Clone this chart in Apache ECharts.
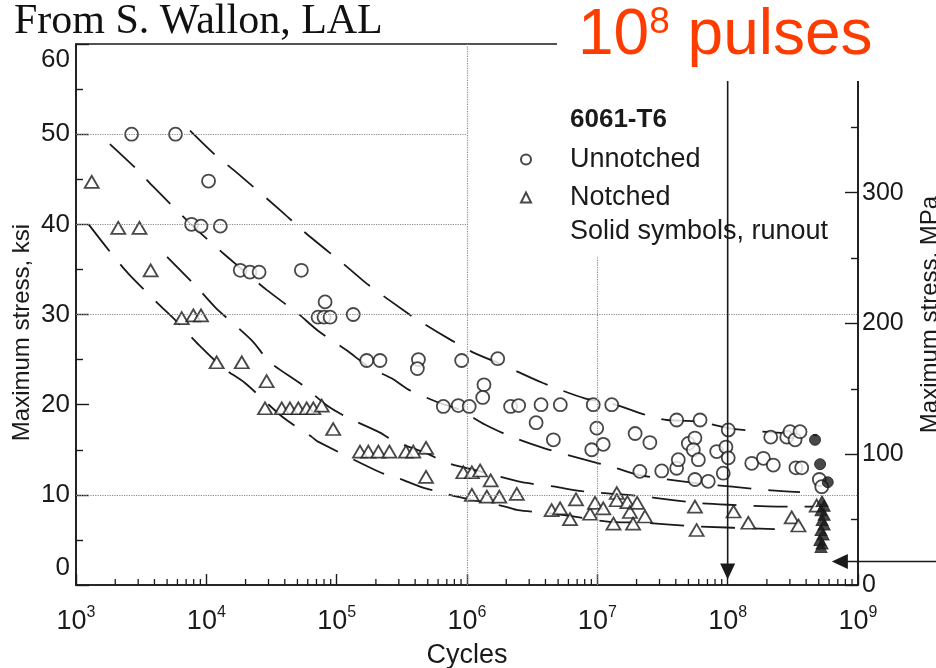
<!DOCTYPE html>
<html>
<head>
<meta charset="utf-8">
<script src="https://cdn.jsdelivr.net/npm/echarts@6/dist/echarts.min.js"></script>
<style>
  html, body { margin: 0; padding: 0; background: #ffffff; }
  #chart { width: 936px; height: 668px; }
</style>
</head>
<body>
<div id="chart"></div>
<script>
// S-N fatigue data for 6061-T6 aluminium: cycles to failure vs. maximum stress (ksi)

// Unnotched specimens (open circles)
const unnotchedCycles = [
  2.67e3, 5.8e3, 1.04e4, 7.7e3, 9.1e3, 1.28e4, 1.82e4, 2.16e4, 2.54e4, 5.36e4,
  8.15e4, 7.2e4, 8.0e4, 8.9e4, 1.34e5, 1.7e5, 2.15e5, 4.24e5, 4.16e5, 9.1e5,
  1.72e6, 1.35e6, 1.32e6, 6.58e5, 8.57e5, 1.04e6, 2.16e6, 2.49e6, 3.7e6, 5.2e6,
  9.3e6, 1.29e7, 3.39e6, 4.6e6, 9.9e6, 9.06e6, 1.11e7, 1.95e7, 2.12e7, 2.53e7,
  3.12e7, 4.06e7, 4.18e7, 4.06e7, 6.14e7, 4.99e7, 5.61e7, 5.45e7, 5.96e7, 5.61e7,
  7.1e7, 8.24e7, 9.7e7, 1.01e8, 9.25e7, 1.01e8, 1.53e8, 1.88e8, 2.24e8, 2.14e8,
  2.84e8, 3.01e8, 3.29e8, 3.59e8, 3.34e8, 3.7e8, 5.05e8, 5.27e8
];
const unnotchedKsi = [
  50.0, 50.0, 44.8, 40.0, 39.8, 39.8, 34.9, 34.7, 34.7, 34.9,
  31.4, 29.7, 29.7, 29.7, 30.0, 24.9, 24.9, 25.0, 24.0, 24.9,
  25.1, 22.2, 20.8, 19.8, 19.9, 19.8, 19.8, 19.9, 20.0, 20.0,
  20.0, 20.0, 18.0, 16.1, 17.4, 15.0, 15.6, 16.8, 12.6, 15.8,
  12.65, 12.95, 13.9, 18.3, 18.3, 15.7, 16.3, 15.0, 13.9, 11.7,
  11.5, 14.8, 15.3, 14.1, 12.4, 17.2, 13.5, 14.05, 13.3, 16.4,
  16.4, 17.0, 16.1, 17.0, 13.0, 13.0, 11.7, 10.9
];

// Notched specimens (open triangles)
const notchedCycles = [
  1.32e3, 2.11e3, 3.07e3, 3.74e3, 6.47e3, 7.95e3, 9.1e3, 1.2e4, 1.87e4, 2.9e4,
  2.82e4, 3.79e4, 4.38e4, 5.08e4, 5.89e4, 6.62e4, 7.68e4, 9.4e4, 1.51e5, 1.75e5,
  2.09e5, 2.54e5, 3.4e5, 3.87e5, 4.85e5, 4.85e5, 9.37e5, 1.09e6, 1.26e6, 1.52e6,
  1.09e6, 1.42e6, 1.77e6, 2.41e6, 4.46e6, 5.18e6, 6.17e6, 6.86e6, 8.8e6, 9.6e6,
  1.11e7, 1.41e7, 1.41e7, 1.33e7, 1.7e7, 1.78e7, 1.88e7, 2.02e7, 2.32e7, 5.61e7,
  5.78e7, 1.11e8, 1.44e8, 3.1e8, 3.49e8, 4.82e8
];
const notchedKsi = [
  44.7, 39.6, 39.6, 34.9, 29.6, 29.9, 29.9, 24.7, 24.7, 22.6,
  19.6, 19.6, 19.6, 19.6, 19.6, 19.6, 19.9, 17.3, 14.8, 14.8,
  14.8, 14.8, 14.8, 14.8, 15.2, 12.0, 12.5, 12.5, 12.7, 11.6,
  10.0, 9.8, 9.8, 10.1, 8.3, 8.5, 7.3, 9.5, 7.9, 9.1,
  8.5, 10.2, 9.4, 6.8, 9.2, 8.1, 6.8, 9.1, 7.6, 8.7,
  6.1, 8.15, 6.9, 7.5, 6.6, 8.8
];

// Runouts (solid symbols)
const runoutUnnotchedCycles = [4.68e8, 5.12e8, 5.86e8];
const runoutUnnotchedKsi = [16.1, 13.4, 11.4];
const runoutNotchedCycles = [5.3e8, 5.5e8, 5.2e8, 5.5e8, 5.3e8, 5.5e8, 5.2e8, 5.4e8, 5.1e8, 5.3e8, 5.2e8];
const runoutNotchedKsi = [9.3, 8.8, 8.3, 7.8, 7.2, 6.7, 6.1, 5.6, 5.0, 4.6, 4.2];

// Scatter-band boundary curves (long dashes)
const unnotchedUpperCycles = [7.5e3, 1.17e4, 1.66e4, 3.87e4, 5.5e4, 1.22e5, 1.71e5, 3.53e5, 4.51e5, 7.67e5,
  1.11e6, 1.89e6, 3.83e6, 8.0e6, 1.3e7, 2.67e7, 3.43e7, 6.1e7, 1.01e8, 1.87e8, 2.4e8, 4.85e8];
const unnotchedUpperKsi = [50.4, 47.7, 45.9, 41.3, 39.3, 35.2, 33.4, 30.1, 29.1, 27.1,
  25.8, 24.4, 22.4, 20.7, 20.1, 18.6, 18.3, 18.1, 17.4, 17.0, 16.9, 16.6];

const unnotchedLowerCycles = [1.82e3, 2.88e3, 3.9e3, 7.5e3, 1.12e4, 1.81e4, 2.92e4, 5.05e4, 7.19e4, 1.2e5,
  1.8e5, 2.66e5, 3.53e5, 5.89e5, 8.84e5, 1.37e6, 2.14e6, 3.83e6, 8.0e6, 1.3e7,
  2.1e7, 4.97e7, 1.08e8, 2.14e8, 3.59e8];
const unnotchedLowerKsi = [48.9, 46.2, 44.2, 40.1, 37.8, 35.2, 32.7, 30.1, 28.2, 26.0,
  24.1, 22.9, 21.7, 20.3, 19.4, 17.8, 16.5, 15.2, 13.9, 13.1,
  12.2, 11.4, 10.9, 10.5, 10.3];

const notchedUpperCycles = [5.0e3, 8.5e3, 1.17e4, 2.24e4, 3.08e4, 5.42e4, 8.43e4, 1.2e5, 2.15e5, 2.81e5,
  4.93e5, 6.78e5, 1.26e6, 2.64e6, 4.73e6, 7.6e6, 1.69e7, 2.67e7, 5.8e7, 1.01e8, 2.39e8, 4.85e8];
const notchedUpperKsi = [36.4, 33.0, 30.8, 27.1, 24.7, 22.2, 19.9, 18.6, 16.9, 15.9,
  14.6, 13.6, 12.6, 11.4, 10.9, 10.4, 10.0, 9.7, 9.1, 8.9, 8.7, 8.7];

const notchedLowerCycles = [1.25e3, 1.86e3, 2.5e3, 4.2e3, 5.85e3, 8.8e3, 1.34e4, 1.98e4, 3.87e4, 6.47e4,
  7.19e4, 2.15e5, 2.91e5, 4.59e5, 6.2e5, 8.38e5, 1.96e6, 2.46e6, 4.11e6, 7.3e6,
  1.25e7, 2.23e7, 5.8e7, 2.3e8];
const notchedLowerKsi = [40.0, 36.8, 34.6, 31.3, 29.3, 26.6, 24.1, 22.4, 18.6, 16.4,
  15.9, 12.5, 11.9, 10.8, 10.3, 9.8, 8.7, 8.3, 8.0, 7.5,
  7.0, 6.9, 6.5, 6.2];

// Axis scales and tick labels
const cycleMin = 1e3, cycleMax = 1e9;
const decadeExponents = [3, 4, 5, 6, 7, 8, 9];
const ksiMin = 0, ksiMax = 60, ksiStep = 10;
const mpaPerKsi = 6.894757;
const mpaStep = 100;

// Dotted reference lines
const gridKsiLevels = [10, 30, 40, 50];
const gridKsiEnds = [1e9, 1e9, 1e6, 1e6];
const gridCycleLevels = [1e6, 1e7];
const gridCycleTops = [60, 36.4];

// Annotations
const pulseCycles = 1e8;
const pulseArrowTipKsi = 0.6;
const runoutArrowCycles = 6.3e8;
const runoutArrowKsi = 2.6;

const INK = '#1a1a1a';
const SANS = '"Liberation Sans", Arial, Helvetica, sans-serif';
const SERIF = '"Liberation Serif", "Times New Roman", Times, serif';

const zip = (xs, ys) => xs.map((x, i) => [x, ys[i]]);

// Minor ticks of the logarithmic cycle axis at 2..9 x 10^n
const minorCycleTicks = [];
for (let e = decadeExponents[0]; e < decadeExponents[decadeExponents.length - 1]; e++) {
  for (let m = 2; m <= 9; m++) minorCycleTicks.push([m * Math.pow(10, e), 0]);
}

const openMarker = { color: '#ffffff', borderColor: INK, borderWidth: 1.8 };
const solidMarker = { color: INK, borderColor: INK, borderWidth: 1 };
const dashStyle = { color: INK, width: 1.8, type: [34, 17] };

function bandCurve(name, xs, ys) {
  return {
    name: name, type: 'line', data: zip(xs, ys), showSymbol: false, symbol: 'none',
    smooth: 0.25, lineStyle: dashStyle, silent: true, z: 2, clip: false
  };
}

const chart = echarts.init(document.getElementById('chart'), null, { renderer: 'canvas', width: 936, height: 668 });

const option = {
  animation: false,
  backgroundColor: '#ffffff',
  grid: {
    left: 76, right: 78, top: 44, bottom: 83,
    show: true, borderColor: INK, borderWidth: 1.6, backgroundColor: 'transparent',
    outerBoundsMode: 'none'
  },
  legend: {
    orient: 'vertical', left: 515, top: 141,
    itemWidth: 10, itemHeight: 10, itemGap: 11,
    selectedMode: false,
    textStyle: { fontSize: 27, color: INK, fontFamily: SANS, padding: [0, 0, 0, 34] },
    data: [{ name: 'Unnotched' }, { name: 'Notched' }]
  },
  xAxis: {
    type: 'log', logBase: 10, min: cycleMin, max: cycleMax, interval: 1,
    axisLine: { show: true, lineStyle: { color: INK, width: 1.6 } },
    axisTick: { show: true, inside: true, length: 11, lineStyle: { color: INK, width: 1.4 } },
    minorTick: { show: false },
    splitLine: { show: false },
    axisLabel: {
      margin: 20, hideOverlap: false, showMinLabel: true, showMaxLabel: true,
      formatter: v => '{b|10}{s|' + Math.round(Math.log10(v)) + '}',
      rich: {
        b: { fontSize: 27, lineHeight: 34, color: INK, fontFamily: SANS },
        s: { fontSize: 16, verticalAlign: 'top', color: INK, fontFamily: SANS }
      }
    },
    name: 'Cycles', nameLocation: 'middle', nameGap: 57, nameMoveOverlap: false,
    nameTextStyle: { fontSize: 27, color: INK, fontFamily: SANS }
  },
  yAxis: [
    {
      type: 'value', position: 'left', min: ksiMin, max: ksiMax, interval: ksiStep,
      axisLine: { show: true, lineStyle: { color: INK, width: 1.6 } },
      axisTick: { show: true, inside: true, length: 13, lineStyle: { color: INK, width: 1.4 } },
      minorTick: { show: true, splitNumber: 2, length: 7, lineStyle: { color: INK, width: 1.4 } },
      splitLine: { show: false },
      axisLabel: {
        margin: 6,
        formatter: v => v === ksiMin ? '{lo|' + v + '}' : (v === ksiMax ? '{hi|' + v + '}' : '{n|' + v + '}'),
        rich: {
          n: { fontSize: 26, color: INK, fontFamily: SANS },
          lo: { fontSize: 26, color: INK, fontFamily: SANS, padding: [0, 0, 34, 0] },
          hi: { fontSize: 26, color: INK, fontFamily: SANS, padding: [32, 0, 0, 0] }
        }
      },
      name: 'Maximum stress, ksi', nameLocation: 'middle', nameRotate: 90, nameGap: 42, nameMoveOverlap: false,
      nameTextStyle: { fontSize: 24, color: INK, fontFamily: SANS, padding: [0, 36, 0, 0] }
    },
    {
      type: 'value', position: 'right', min: 0, max: ksiMax * mpaPerKsi, interval: mpaStep,
      axisLine: { show: true, lineStyle: { color: INK, width: 1.6 } },
      axisTick: { show: true, inside: true, length: 13, lineStyle: { color: INK, width: 1.4 } },
      minorTick: { show: true, splitNumber: 2, length: 7, lineStyle: { color: INK, width: 1.4 } },
      splitLine: { show: false },
      axisLabel: {
        margin: 4, color: INK, fontSize: 25, fontFamily: SANS,
        formatter: v => (Math.abs(v % mpaStep) < 1e-6 ? String(v) : '')
      },
      name: 'Maximum stress, MPa', nameLocation: 'middle', nameRotate: 90, nameGap: 60, nameMoveOverlap: false,
      nameTextStyle: { fontSize: 24, color: INK, fontFamily: SANS }
    }
  ],
  series: [
    {
      name: 'reference lines', type: 'scatter', data: [], silent: true, z: 1,
      markLine: {
        silent: true, symbol: ['none', 'none'], label: { show: false },
        lineStyle: { type: 'dotted', color: '#8c8c8c', width: 1.2 },
        emphasis: { disabled: true },
        data: [
          ...gridKsiLevels.map((k, i) => [{ coord: [cycleMin, k] }, { coord: [gridKsiEnds[i], k] }]),
          ...gridCycleLevels.map((c, i) => [{ coord: [c, ksiMin] }, { coord: [c, gridCycleTops[i]] }])
        ]
      }
    },
    bandCurve('unnotched upper band', unnotchedUpperCycles, unnotchedUpperKsi),
    bandCurve('unnotched lower band', unnotchedLowerCycles, unnotchedLowerKsi),
    bandCurve('notched upper band', notchedUpperCycles, notchedUpperKsi),
    bandCurve('notched lower band', notchedLowerCycles, notchedLowerKsi),
    {
      name: 'Unnotched', type: 'scatter', symbol: 'circle', symbolSize: 13,
      data: zip(unnotchedCycles, unnotchedKsi), itemStyle: openMarker, z: 3, clip: false,
      emphasis: { disabled: true }
    },
    {
      name: 'Notched', type: 'scatter', symbol: 'triangle', symbolSize: [14, 12],
      data: zip(notchedCycles, notchedKsi), itemStyle: openMarker, z: 3, clip: false,
      emphasis: { disabled: true }
    },
    {
      name: 'Unnotched runout', type: 'scatter', symbol: 'circle', symbolSize: 11,
      data: zip(runoutUnnotchedCycles, runoutUnnotchedKsi), itemStyle: solidMarker, z: 4, clip: false,
      emphasis: { disabled: true }
    },
    {
      name: 'Notched runout', type: 'scatter', symbol: 'triangle', symbolSize: [12, 11],
      data: zip(runoutNotchedCycles, runoutNotchedKsi), itemStyle: solidMarker, z: 4, clip: false,
      emphasis: { disabled: true }
    },
    {
      name: 'cycle minor ticks', type: 'custom', silent: true, z: 3, clip: false,
      data: minorCycleTicks,
      renderItem: (params, api) => {
        const p = api.coord([api.value(0), ksiMin]);
        return { type: 'line', shape: { x1: p[0], y1: p[1], x2: p[0], y2: p[1] - 6 },
                 style: { stroke: INK, lineWidth: 1.3 } };
      }
    }
  ],
  graphic: [
    { type: 'text', id: 'source', x: 14, y: 22, z: 11,
      style: { text: 'From S. Wallon, LAL', font: '42px ' + SERIF, fill: '#111111',
               textAlign: 'left', textVerticalAlign: 'middle' } },
    { type: 'rect', id: 'headingBox', x: 557, y: 0, z: 10,
      shape: { width: 379, height: 81 }, style: { fill: '#ffffff' } },
    { type: 'text', id: 'pulses', x: 578, y: 36, z: 11,
      style: {
        text: '{a|10}{s|8}{a| pulses}', textAlign: 'left', textVerticalAlign: 'middle',
        rich: {
          a: { fontSize: 64, lineHeight: 64, fontFamily: SANS, fill: '#ff3c00', color: '#ff3c00' },
          s: { fontSize: 37, verticalAlign: 'top', fontFamily: SANS, fill: '#ff3c00', color: '#ff3c00' }
        }
      } },
    { type: 'text', id: 'alloy', x: 570, y: 120, z: 11,
      style: { text: '6061-T6', font: 'bold 26px ' + SANS, fill: INK, textAlign: 'left', textVerticalAlign: 'middle' } },
    { type: 'text', id: 'runoutNote', x: 570, y: 232, z: 11,
      style: { text: 'Solid symbols, runout', font: '27px ' + SANS, fill: INK, textAlign: 'left', textVerticalAlign: 'middle' } }
  ]
};

chart.setOption(option);

// Arrows placed through the chart's own scales
const boxBottom = 81;
const vTip = chart.convertToPixel({ gridIndex: 0 }, [pulseCycles, pulseArrowTipKsi]);
const hTip = chart.convertToPixel({ gridIndex: 0 }, [runoutArrowCycles, runoutArrowKsi]);
const headLen = 16, headHalf = 7.5;
chart.setOption({
  graphic: [
    { type: 'line', id: 'pulseShaft', z: 12,
      shape: { x1: vTip[0], y1: boxBottom, x2: vTip[0], y2: vTip[1] - headLen + 1 },
      style: { stroke: INK, lineWidth: 1.6 } },
    { type: 'polygon', id: 'pulseHead', z: 12,
      shape: { points: [[vTip[0] - headHalf, vTip[1] - headLen], [vTip[0] + headHalf, vTip[1] - headLen], [vTip[0], vTip[1]]] },
      style: { fill: INK } },
    { type: 'line', id: 'runoutShaft', z: 12,
      shape: { x1: 936, y1: hTip[1], x2: hTip[0] + headLen - 1, y2: hTip[1] },
      style: { stroke: INK, lineWidth: 1.6 } },
    { type: 'polygon', id: 'runoutHead', z: 12,
      shape: { points: [[hTip[0] + headLen, hTip[1] - headHalf], [hTip[0] + headLen, hTip[1] + headHalf], [hTip[0], hTip[1]]] },
      style: { fill: INK } }
  ]
});
</script>
</body>
</html>
